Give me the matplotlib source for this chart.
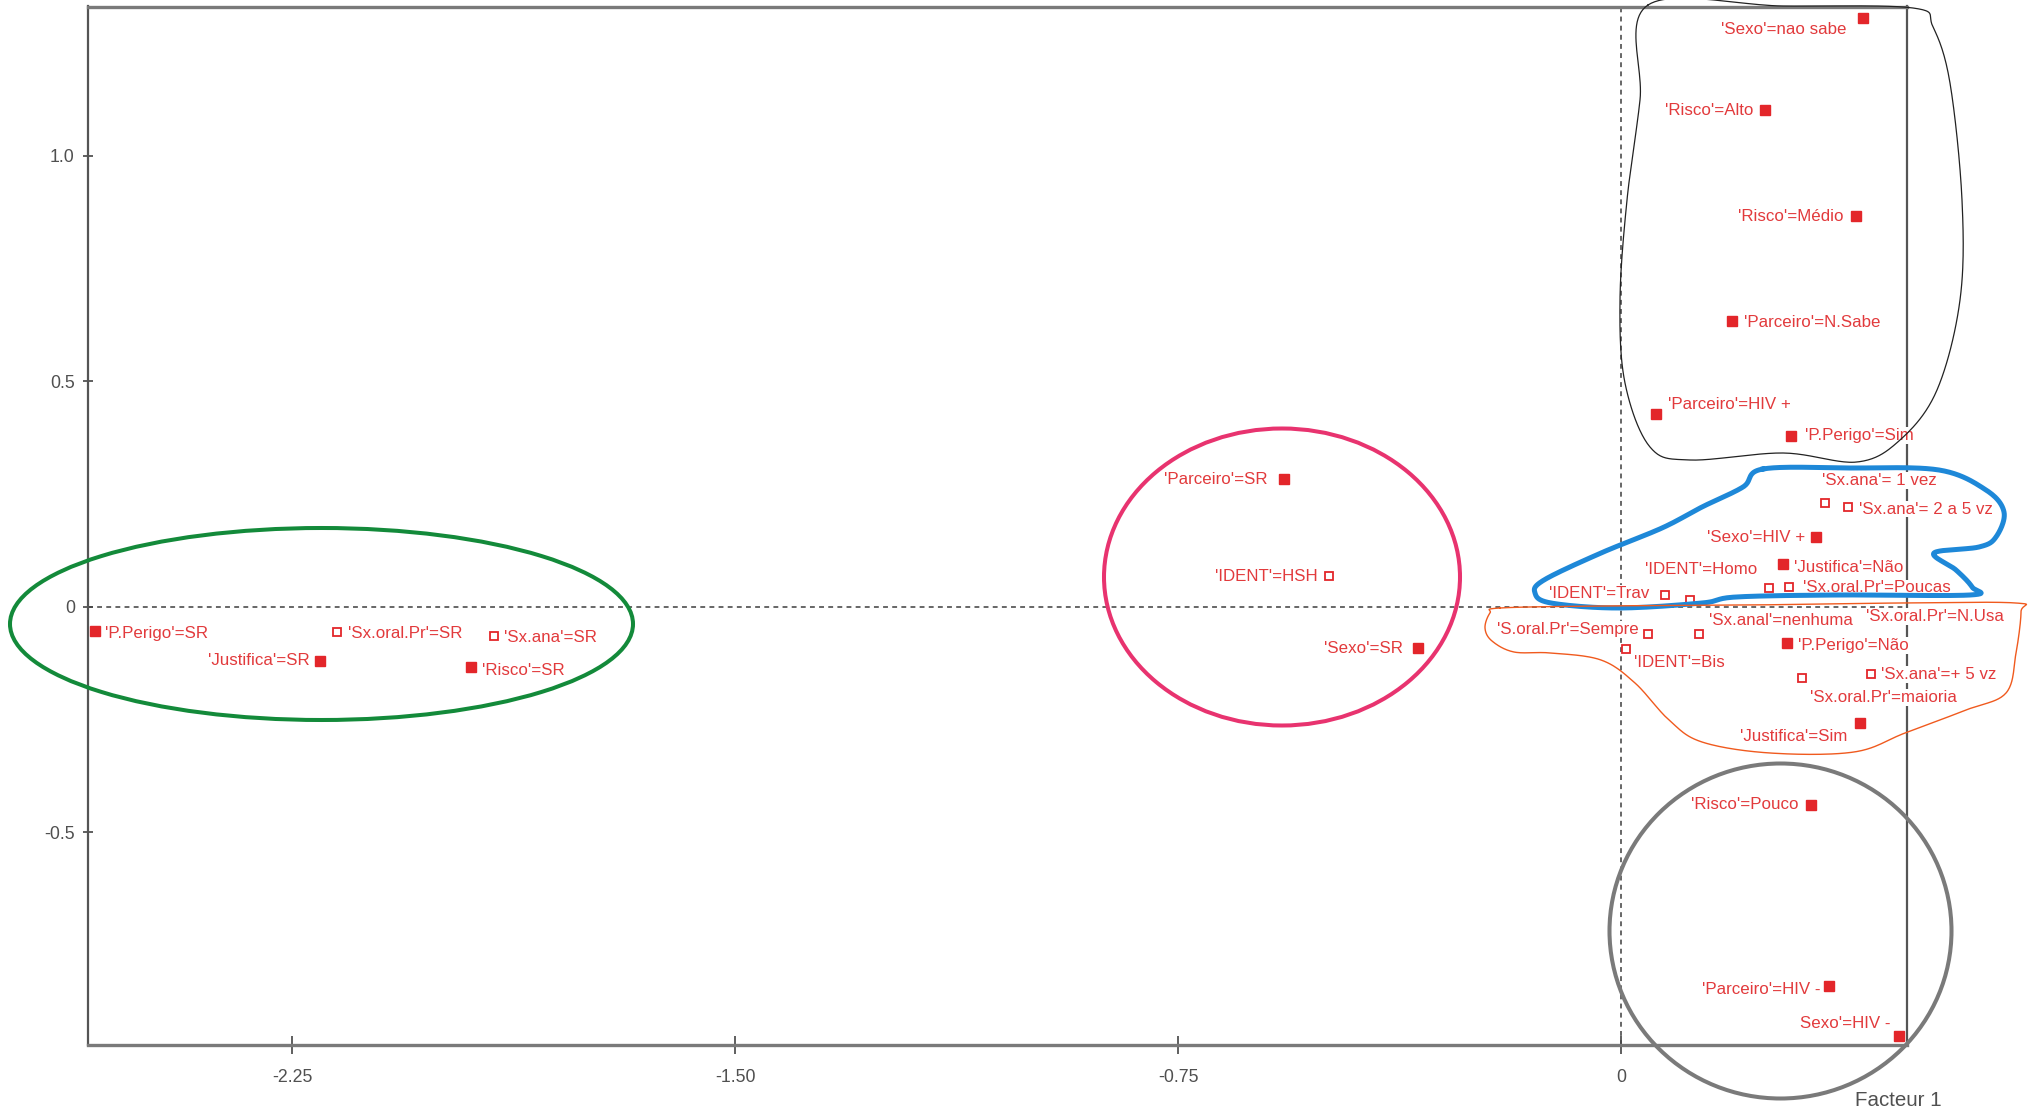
import numpy as np
import matplotlib
matplotlib.use("Agg")
import matplotlib.pyplot as plt
from matplotlib import font_manager
from matplotlib.patches import Ellipse
from matplotlib.transforms import Affine2D

# active categories (filled squares)
act_labels = ["'Sexo'=nao sabe", "'Risco'=Alto", "'Risco'=Médio", "'Parceiro'=N.Sabe",
              "'Parceiro'=HIV +", "'P.Perigo'=Sim", "'Sexo'=HIV +", "'Justifica'=Não",
              "'P.Perigo'=Não", "'Justifica'=Sim", "'Risco'=Pouco", "'Parceiro'=HIV -",
              "Sexo'=HIV -", "'Parceiro'=SR", "'Sexo'=SR", "'P.Perigo'=SR",
              "'Justifica'=SR", "'Risco'=SR"]
act_x = [0.409, 0.244, 0.398, 0.188, 0.059, 0.287, 0.330, 0.274, 0.281, 0.405,
         0.321, 0.352, 0.471, -0.571, -0.344, -2.584, -2.203, -1.948]
act_y = [1.305, 1.101, 0.866, 0.634, 0.428, 0.379, 0.154, 0.094, -0.080, -0.259,
         -0.439, -0.842, -0.951, 0.284, -0.092, -0.054, -0.120, -0.134]

# supplementary categories (open squares)
sup_labels = ["'Sx.ana'= 1 vez", "'Sx.ana'= 2 a 5 vz", "'IDENT'=Homo", "'Sx.oral.Pr'=Poucas",
              "'IDENT'=Trav", "'Sx.oral.Pr'=N.Usa", "'S.oral.Pr'=Sempre", "'Sx.anal'=nenhuma",
              "'IDENT'=Bis", "'Sx.oral.Pr'=maioria", "'Sx.ana'=+ 5 vz", "'IDENT'=HSH",
              "'Sx.oral.Pr'=SR", "'Sx.ana'=SR"]
sup_x = [0.346, 0.384, 0.251, 0.285, 0.074, 0.116, 0.046, 0.131, 0.009, 0.306,
         0.423, -0.495, -2.175, -1.908]
sup_y = [0.231, 0.221, 0.042, 0.044, 0.027, 0.014, -0.060, -0.060, -0.094, -0.159,
         -0.150, 0.067, -0.056, -0.064]

xticks = [-2.25, -1.50, -0.75, 0]
xtick_labels = ["-2.25", "-1.50", "-0.75", "0"]
yticks = [1.0, 0.5, 0, -0.5]
ytick_labels = ["1.0", "0.5", "0", "-0.5"]

# label offsets in pixels (dx, dy downwards) and alignment
act_off = [(-16, 11, 'r'), (-12, 0, 'r'), (-13, 0, 'r'), (12, 2, 'l'), (12, -9, 'l'),
           (14, 0, 'l'), (-11, 0, 'r'), (11, 3, 'l'), (11, 3, 'l'), (-13, 13, 'r'),
           (-12, 0, 'r'), (-9, 3, 'r'), (-9, -12, 'r'), (-16, 1, 'r'), (-15, 0, 'r'),
           (10, 2, 'l'), (-10, 0, 'r'), (11, 3, 'l')]
sup_off = [(-3, -22, 'l'), (11, 2, 'l'), (-12, -18, 'r'), (14, 1, 'l'), (-15, -1, 'r'),
           (176, 16, 'l'), (-10, -4, 'r'), (10, -13, 'l'), (8, 13, 'l'), (8, 19, 'l'),
           (10, 0, 'l'), (-11, 0, 'r'), (11, 2, 'l'), (10, 2, 'l')]

names = {f.name for f in font_manager.fontManager.ttflist}
if 'Liberation Sans Narrow' in names:
    fam, lab_fs, tick_fs = ['Liberation Sans Narrow', 'DejaVu Sans'], 13.5, 14
else:
    fam, lab_fs, tick_fs = ['Liberation Sans', 'DejaVu Sans'], 12.2, 12.8
plt.rcParams['font.family'] = fam

W, H = 2029, 1118
fig = plt.figure(figsize=(W / 100, H / 100), dpi=100, facecolor='white')
ax = fig.add_axes([88 / W, 1 - 1045 / H, (1907 - 88) / W, (1045 - 6.5) / H])
ax.set_xlim(-2.596, 0.484)
ax.set_ylim(-0.972, 1.331)

ax.axhline(0, color='#666666', lw=1.4, ls=(0, (2.5, 2.2)), zorder=1)
ax.axvline(0, color='#666666', lw=1.4, ls=(0, (2.5, 2.2)), zorder=1)

red = '#e3262a'
txt_red = '#e23a3c'
ax.plot(act_x, act_y, 's', color=red, ms=7.4, mec=red, zorder=4, clip_on=False)
ax.plot(sup_x, sup_y, 's', mfc='white', mec=red, ms=5.6, mew=1.3, zorder=4, clip_on=False)

def put_labels(labels, xs, ys, offs):
    for lab, x, y, (dx, dy, a) in zip(labels, xs, ys, offs):
        ax.annotate(lab, (x, y), xytext=(dx, -dy), textcoords='offset pixels',
                    ha='right' if a == 'r' else 'left', va='center',
                    color=txt_red, fontsize=lab_fs, zorder=5, annotation_clip=False,
                    bbox=dict(boxstyle='square,pad=0.05', fc='white', ec='none'))

put_labels(act_labels, act_x, act_y, act_off)
put_labels(sup_labels, sup_x, sup_y, sup_off)

ax.set_xticks(xticks)
ax.set_xticklabels(xtick_labels)
ax.set_yticks(yticks)
ax.set_yticklabels(ytick_labels)
ax.tick_params(axis='x', direction='inout', length=13, width=1.2, color='#444444',
               labelsize=tick_fs, labelcolor='#505050', pad=11)
ax.tick_params(axis='y', direction='inout', length=7, width=1.2, color='#444444',
               labelsize=tick_fs, labelcolor='#505050', pad=6)
for s in ['top', 'bottom']:
    ax.spines[s].set_color('#7a7a7a')
    ax.spines[s].set_linewidth(2.4)
for s in ['left', 'right']:
    ax.spines[s].set_color('#555555')
    ax.spines[s].set_linewidth(1.6)

fig.text(1898 / W, 1 - 1101 / H, 'Facteur 1', ha='center', va='center',
         color='#505050', fontsize=tick_fs + 2)

# hand-drawn highlight shapes, in image pixels (y from top)
px = Affine2D().scale(1 / W, -1 / H).translate(0, 1) + fig.transFigure

def smooth_closed(pts, n=24):
    P = np.array(pts, float)
    m = len(P)
    t = np.linspace(0, 1, n, endpoint=False)[:, None]
    seg = []
    for i in range(m):
        p0, p1, p2, p3 = P[i - 1], P[i], P[(i + 1) % m], P[(i + 2) % m]
        seg.append(0.5 * (2 * p1 + (-p0 + p2) * t + (2 * p0 - 5 * p1 + 4 * p2 - p3) * t ** 2
                          + (-p0 + 3 * p1 - 3 * p2 + p3) * t ** 3))
    c = np.vstack(seg)
    return np.vstack([c, c[:1]])

black_pts = [(1648, 5), (1640, 100), (1627, 200), (1620, 300), (1625, 383), (1650, 447),
             (1690, 460), (1783, 453), (1857, 462), (1900, 440), (1937, 390), (1960, 300),
             (1962, 200), (1950, 83), (1933, 27), (1913, 8), (1783, 6)]
blue_pts = [(1763, 469), (1850, 468), (1939, 470), (1986, 490), (2004, 512), (1996, 537),
            (1979, 547), (1934, 553), (1956, 570), (1972, 587), (1970, 595), (1837, 595),
            (1736, 597), (1702, 603), (1618, 608), (1551, 603), (1535, 593), (1544, 580),
            (1601, 553), (1662, 528), (1702, 507), (1743, 487)]
orange_pts = [(1500, 608), (1600, 606), (1750, 605), (1900, 603), (2016, 603), (2021, 612),
              (2016, 653), (2006, 693), (1966, 710), (1905, 733), (1854, 752), (1770, 753),
              (1702, 742), (1669, 720), (1635, 683), (1601, 660), (1551, 653), (1514, 652),
              (1492, 641), (1485, 628), (1490, 613)]

for pts, col, lw in [(black_pts, '#222222', 0.9), (blue_pts, '#1e88d8', 3.6),
                     (orange_pts, '#f05a1e', 1.0)]:
    c = smooth_closed(pts)
    fig.add_artist(plt.Line2D(c[:, 0], c[:, 1], color=col, lw=lw, transform=px, zorder=6))

for (cx, cy, w, h, col) in [(321.5, 624, 623, 192, '#138a3a'),
                             (1282, 577, 356, 297, '#e8336f'),
                             (1780.5, 931, 342, 335, '#7a7a7a')]:
    fig.add_artist(Ellipse((cx, cy), w, h, fill=False, ec=col, lw=2.9, transform=px, zorder=6))

fig.savefig('out.png', dpi=100, facecolor='white')
